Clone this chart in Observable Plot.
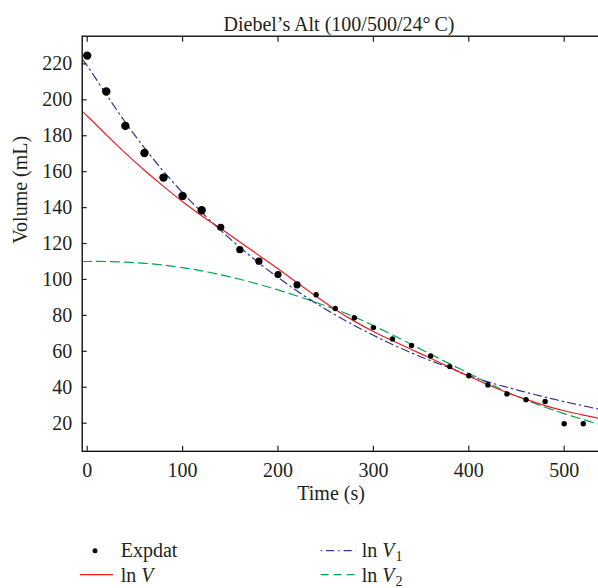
<!DOCTYPE html>
<html>
<head>
<meta charset="utf-8">
<script src="https://cdn.jsdelivr.net/npm/d3@7"></script>
<script src="https://cdn.jsdelivr.net/npm/@observablehq/plot@0.6"></script>
<style>
  html, body { margin: 0; padding: 0; background: #fff; overflow: hidden; }
  #chart svg { display: block; overflow: hidden; }
  #legend svg { display: block; }
</style>
</head>
<body>
<div id="chart"></div>
<div id="legend"></div>
<script>
// ---- data ----
const titleText = "Diebel\u2019s Alt (100/500/24\u00B0\u2009C)";
const xLabel = "Time (s)";
const yLabel = "Volume (mL)";
const xTicks = [0, 100, 200, 300, 400, 500];
const yTicks = [20, 40, 60, 80, 100, 120, 140, 160, 180, 200, 220];

// experimental points
const timeExp = [0, 20, 40, 60, 80, 100, 120, 140, 160, 180, 200, 220, 240, 260, 280, 300, 320, 340, 360, 380, 400, 420, 440, 460, 480, 500, 520];
const volExp  = [224.6, 204.6, 185.5, 170.4, 156.7, 146.5, 138.5, 129.0, 116.6, 110.2, 102.7, 97.0, 91.5, 83.8, 78.7, 73.2, 66.9, 63.2, 57.4, 51.5, 46.4, 41.3, 36.3, 33.1, 32.1, 19.7, 19.7];

// fitted curves (read at sample times)
const timeFit = [-5, 0, 20, 40, 60, 80, 100, 120, 140, 160, 180, 200, 220, 240, 260, 280, 300, 320, 340, 360, 380, 400, 420, 440, 460, 480, 500, 520, 538];
const lnV  = [193.4, 191.0, 180.5, 170.3, 160.8, 151.8, 143.3, 135.5, 128.3, 120.9, 113.4, 105.9, 98.2, 90.6, 83.3, 76.8, 71.0, 65.9, 61.0, 56.1, 51.1, 46.1, 41.4, 37.1, 33.3, 29.8, 26.9, 24.5, 22.6];
const lnV1 = [222.5, 219.0, 203.0, 187.5, 173.2, 160.2, 148.3, 137.4, 127.3, 117.9, 109.2, 101.1, 93.6, 86.7, 80.3, 74.4, 68.9, 63.8, 59.1, 54.8, 50.8, 46.5, 43.0, 40.0, 37.2, 34.5, 32.0, 29.7, 27.6];
const lnV2 = [110.0, 110.0, 110.0, 109.6, 109.0, 108.0, 106.6, 104.8, 102.6, 100.1, 97.3, 94.2, 90.8, 87.2, 83.4, 79.2, 74.3, 69.2, 63.8, 58.4, 53.0, 47.8, 42.4, 37.3, 32.9, 28.9, 25.3, 22.0, 19.2];

const seriesNames = ["Expdat", "ln V", "ln V1", "ln V2"];

// ---- build tables ----
const points = timeExp.map((t, i) => ({t, v: volExp[i]}));
const fitRows = (vals) => timeFit.map((t, i) => ({t, v: vals[i]}));

const RED = "#ed1c24", BLUE = "#2e3192", GREEN = "#00a651", INK = "#231f20";
const FONT = "Liberation Serif, Times New Roman, serif";

const chart = Plot.plot({
  width: 598,
  height: 520,
  marginLeft: 81.7,
  marginRight: -3,
  marginTop: 35.7,
  marginBottom: 69.2,
  style: {fontFamily: FONT, fontSize: "20px", color: INK, background: "white"},
  x: {domain: [-5.24, 539.1]},
  y: {domain: [4.35, 235.4]},
  r: {type: "identity"},
  marks: [
    Plot.axisY({ticks: yTicks, tickSize: -5, tickPadding: 15, label: null, fontSize: 20, strokeWidth: 1.2}),
    Plot.axisX({ticks: xTicks, tickSize: -5, tickPadding: 16.7, label: null, fontSize: 20, strokeWidth: 1.2}),
    Plot.axisX({anchor: "top", ticks: xTicks, tickSize: -5, tickFormat: () => "", label: null, strokeWidth: 1.2}),
    Plot.line(fitRows(lnV2), {x: "t", y: "v", stroke: GREEN, strokeWidth: 1.2, strokeDasharray: "9,5", curve: "catmull-rom", clip: true}),
    Plot.line(fitRows(lnV1), {x: "t", y: "v", stroke: BLUE, strokeWidth: 1.2, strokeDasharray: "8,4,1.5,4", curve: "catmull-rom", clip: true}),
    Plot.line(fitRows(lnV), {x: "t", y: "v", stroke: RED, strokeWidth: 1.2, curve: "catmull-rom", clip: true}),
    Plot.dot(points, {x: "t", y: "v", fill: "black", r: d => d.t <= 120 ? 4.2 : d.t <= 220 ? 3.6 : 2.7}),
    Plot.frame({stroke: "black", strokeWidth: 1.3}),
    Plot.text([titleText], {frameAnchor: "top", dy: -19.4, dx: -2.85, fontSize: 20, fill: INK}),
    Plot.text([xLabel], {frameAnchor: "bottom", dy: 48.8, dx: -10.8, fontSize: 20, fill: INK}),
    Plot.text([yLabel], {frameAnchor: "left", dx: -62, rotate: -90, fontSize: 20, fill: INK})
  ]
});
document.getElementById("chart").appendChild(chart);

// ---- legend (below the plot) ----
const lg = d3.select("#legend").append("svg")
  .attr("width", 598).attr("height", 68)
  .style("font-family", FONT).style("font-size", "20px").style("fill", INK);

function label(g, x, y, name) {
  const t = g.append("text").attr("x", x).attr("y", y);
  if (name === "Expdat") { t.text(name); return; }
  t.append("tspan").text("ln ");
  t.append("tspan").attr("font-style", "italic").text("V");
  const sub = name.slice(4);
  if (sub) t.append("tspan").attr("font-size", 14).attr("dy", 4).attr("dx", 1).text(sub);
}
// Expdat
lg.append("circle").attr("cx", 95).attr("cy", 30.7).attr("r", 2.5).attr("fill", "black");
label(lg, 120.7, 37.3, seriesNames[0]);
// ln V
lg.append("line").attr("x1", 80).attr("x2", 113.3).attr("y1", 54.7).attr("y2", 54.7).attr("stroke", RED).attr("stroke-width", 1.2);
label(lg, 120.7, 61.7, seriesNames[1]);
// ln V1
lg.append("line").attr("x1", 320.7).attr("x2", 356).attr("y1", 30.7).attr("y2", 30.7).attr("stroke", BLUE).attr("stroke-width", 1.2).attr("stroke-dasharray", "1.5,4,8,4");
label(lg, 361.7, 37.3, seriesNames[2]);
// ln V2
lg.append("line").attr("x1", 320.7).attr("x2", 356).attr("y1", 54.7).attr("y2", 54.7).attr("stroke", GREEN).attr("stroke-width", 1.2).attr("stroke-dasharray", "8,5");
label(lg, 361.7, 61.7, seriesNames[3]);
</script>
</body>
</html>
